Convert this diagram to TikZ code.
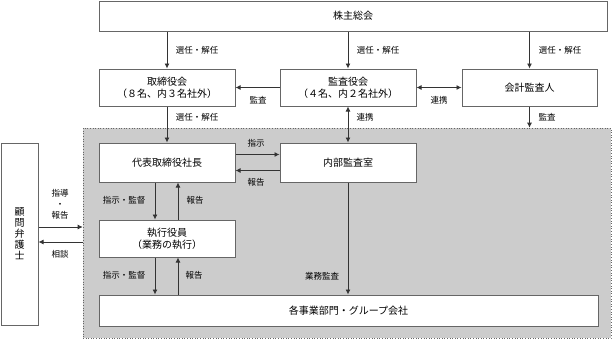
\documentclass[tikz,border=0pt]{standalone}
\usepackage{fontspec}
\setmainfont{Noto Sans CJK JP}
\usetikzlibrary{arrows.meta,positioning}
\definecolor{boxline}{HTML}{666666}
\definecolor{areafill}{HTML}{CCCCCC}
\definecolor{arrline}{HTML}{333333}
\tikzset{
  % white boxes with a grey stroke
  box/.style  = {rectangle, draw=boxline, fill=white, line width=1pt, align=center,
                 font=\fontsize{10}{12}\selectfont, inner sep=0pt},
  area/.style = {rectangle, draw=boxline, dotted, fill=areafill, line width=0.6pt},
  arr/.style  = {-{Latex[length=5pt,width=5pt]}, arrline, line width=0.8pt},
  dbl/.style  = {{Latex[length=5pt,width=5pt]}-{Latex[length=5pt,width=5pt]}, arrline, line width=0.8pt},
  lbl/.style  = {font=\fontsize{8.5}{10.5}\selectfont, align=center, inner sep=1pt},
}

\begin{document}
\begin{tikzpicture}[x=1pt,y=-1pt]
\useasboundingbox (0,0) rectangle (613,341);
% shaded group
\node[area, minimum width=528pt, minimum height=210pt] (group) at (347,233) {};
% boxes
\node[box, minimum width=508pt, minimum height=30pt] (soukai) at (353,16) {株主総会};
\node[box, minimum width=136pt, minimum height=37pt] (board) at (167,87.5) {取締役会\\（８名、内３名社外）};
\node[box, minimum width=136pt, minimum height=37pt] (kansa) at (348,87.5) {監査役会\\（４名、内２名社外）};
\node[box, minimum width=135pt, minimum height=37pt] (kaikei) at (529.5,87.5) {会計監査人};
\node[box, minimum width=136pt, minimum height=39pt] (ceo) at (167,162.5) {代表取締役社長};
\node[box, minimum width=136pt, minimum height=39pt] (naibu) at (348,162.5) {内部監査室};
\node[box, minimum width=136pt, minimum height=37pt] (exec) at (167,238.5) {執行役員\\（業務の執行）};
\node[box, minimum width=499pt, minimum height=31pt] (units) at (348.5,310.5) {各事業部門・グループ会社};
\node[box, minimum width=37pt, minimum height=182pt, font=\fontsize{10}{11}\selectfont] (komon) at (19.5,234) {顧\\問\\弁\\護\\士};
% top level
\draw[arr] (soukai.south -| board) -- (board.north);
\draw[arr] (soukai.south -| kansa) -- (kansa.north);
\draw[arr] (soukai.south -| kaikei) -- (kaikei.north);
\node[lbl] (l1) at (197,50) {選任・解任};
\node[lbl] (l2) at (378,50) {選任・解任};
\node[lbl] (l3) at (560,50) {選任・解任};
\draw[arr] (kansa.west) -- (board.east);
\node[lbl] (l4) at (258,100) {監査};
\draw[dbl] (kansa.east) -- (kaikei.west);
\node[lbl] (l5) at (439,100) {連携};
% into the group
\draw[arr] (board.south) -- (ceo.north);
\node[lbl] (l6) at (197,117) {選任・解任};
\draw[dbl] (naibu.north) -- (kansa.south);
\node[lbl] (l7) at (365,117) {連携};
\draw[arr] (kaikei.south) -- (kaikei.south |- group.north);
\node[lbl] (l8) at (547,117) {監査};
% inside the group
\draw[arr] ([yshift=8pt]ceo.east) -- ([yshift=8pt]ceo.east -| naibu.west);
\node[lbl] (l9) at (256,143) {指示};
\draw[arr] ([yshift=-8pt]naibu.west) -- ([yshift=-8pt]naibu.west -| ceo.east);
\node[lbl] (l10) at (256,182) {報告};
\draw[arr] ([xshift=-12pt]ceo.south) -- ([xshift=-12pt]exec.north);
\draw[arr] ([xshift=11pt]exec.north) -- ([xshift=11pt]ceo.south);
\node[lbl] (l11) at (124,200) {指示・監督};
\node[lbl] (l12) at (195,200) {報告};
\draw[arr] ([xshift=-12pt]exec.south) -- ([xshift=-12pt]exec.south |- units.north);
\draw[arr] ([xshift=11pt]exec.south |- units.north) -- ([xshift=11pt]exec.south);
\node[lbl] (l13) at (124,275) {指示・監督};
\node[lbl] (l14) at (194,275) {報告};
\draw[arr] (naibu.south) -- (naibu.south |- units.north);
\node[lbl] (l15) at (322,276) {業務監査};
% legal adviser
\draw[arr] ([yshift=7pt]komon.east) -- ([yshift=7pt]komon.east -| group.west);
\node[lbl, font=\fontsize{8.5}{11}\selectfont] (l16) at (60,204) {指導\\・\\報告};
\draw[arr] ([yshift=-8pt]komon.east -| group.west) -- ([yshift=-8pt]komon.east);
\node[lbl] (l17) at (60,254) {相談};
\end{tikzpicture}
\end{document}
